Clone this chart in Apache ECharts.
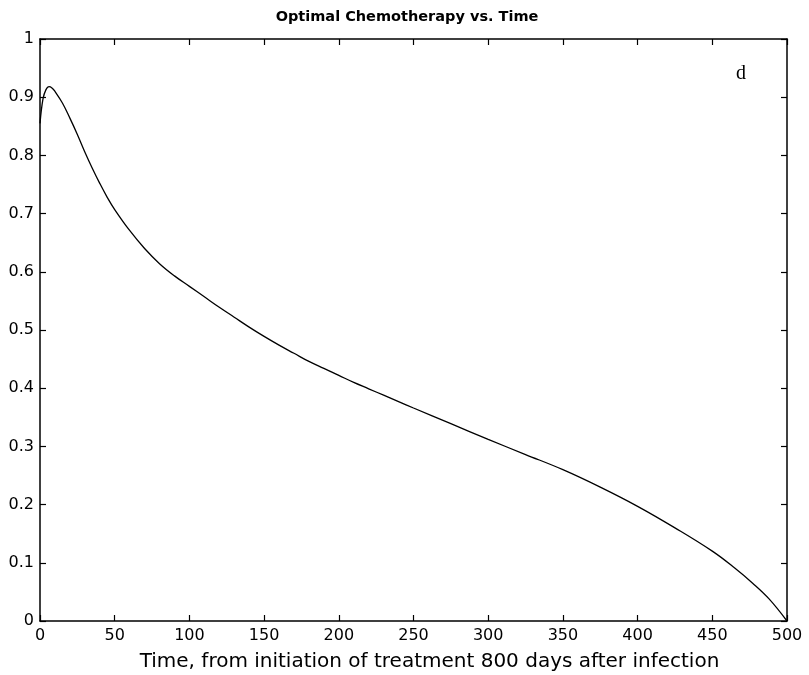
<!DOCTYPE html>
<html>
<head>
<meta charset="utf-8">
<script src="https://cdn.jsdelivr.net/npm/echarts@6/dist/echarts.min.js"></script>
<style>
  html, body { margin: 0; padding: 0; background: #fff; }
  #chart { width: 809px; height: 675px; }
</style>
</head>
<body>
<div id="chart"></div>
<script>
// Time since start of treatment (days)
const days = [0, 2, 4, 6, 8, 10, 15, 20, 25, 30, 35, 40, 45, 50, 60, 70, 80, 90, 100, 110, 120,
  130, 140, 150, 160, 170, 180, 190, 200, 210, 220, 230, 240, 250, 275, 300, 325, 350, 375,
  400, 425, 450, 465, 477, 488, 500];
// Optimal chemotherapy level u(t)
const chemo = [0.855, 0.897, 0.913, 0.918, 0.916, 0.910, 0.890, 0.864, 0.836, 0.806, 0.778, 0.752,
  0.728, 0.707, 0.671, 0.640, 0.614, 0.593, 0.575, 0.557, 0.539, 0.522, 0.505, 0.489, 0.474,
  0.460, 0.446, 0.434, 0.422, 0.410, 0.399, 0.388, 0.377, 0.366, 0.339, 0.312, 0.286, 0.260,
  0.230, 0.197, 0.160, 0.120, 0.091, 0.065, 0.038, 0.0];

const xTicks = [0, 50, 100, 150, 200, 250, 300, 350, 400, 450, 500];
const yTicks = [0, 0.1, 0.2, 0.3, 0.4, 0.5, 0.6, 0.7, 0.8, 0.9, 1];

const points = days.map((d, i) => [d, chemo[i]]);
const labelFont = { fontFamily: 'DejaVu Sans', fontSize: 16, color: '#000' };
const frameLine = { show: true, onZero: false, lineStyle: { color: '#000', width: 1.5 } };
const innerTick = { show: true, inside: true, length: 6, lineStyle: { color: '#000', width: 1.2 } };

const chart = echarts.init(document.getElementById('chart'), null, { renderer: 'canvas' });
chart.setOption({
  animation: false,
  backgroundColor: '#fff',
  title: {
    text: 'Optimal Chemotherapy vs. Time',
    left: 402, top: 5, textAlign: 'center',
    textStyle: { fontFamily: 'DejaVu Sans', fontSize: 14.5, fontWeight: 'bold', color: '#000' }
  },
  grid: { left: 40, right: 22, top: 39, bottom: 54, containLabel: false, outerBoundsMode: 'none' },
  xAxis: [{
    type: 'value', min: xTicks[0], max: xTicks[xTicks.length - 1], interval: 50,
    name: 'Time, from initiation of treatment 800 days after infection',
    nameLocation: 'middle', nameGap: 31,
    nameTextStyle: { fontFamily: 'DejaVu Sans', fontSize: 20, color: '#000', padding: [0, 0, 0, 32] },
    axisLine: frameLine, axisTick: innerTick,
    axisLabel: Object.assign({ margin: 7 }, labelFont),
    splitLine: { show: false }
  }, {
    type: 'value', min: xTicks[0], max: xTicks[xTicks.length - 1], interval: 50, position: 'top',
    axisLine: frameLine, axisTick: innerTick,
    axisLabel: { show: false }, splitLine: { show: false }
  }],
  yAxis: [{
    type: 'value', min: yTicks[0], max: yTicks[yTicks.length - 1], interval: 0.1,
    axisLine: frameLine, axisTick: innerTick,
    axisLabel: Object.assign({ margin: 6, formatter: v => String(+v.toFixed(1)) }, labelFont),
    splitLine: { show: false }
  }, {
    type: 'value', min: yTicks[0], max: yTicks[yTicks.length - 1], interval: 0.1, position: 'right',
    axisLine: frameLine, axisTick: innerTick,
    axisLabel: { show: false }, splitLine: { show: false }
  }],
  graphic: [{
    type: 'text', left: 736, top: 64,
    style: { text: 'd', font: '20px "Liberation Serif"', fill: '#000' }
  }],
  series: [{
    type: 'line',
    data: points,
    smooth: 0.4,
    showSymbol: false,
    lineStyle: { color: '#000', width: 1.3 }
  }]
});
</script>
</body>
</html>
